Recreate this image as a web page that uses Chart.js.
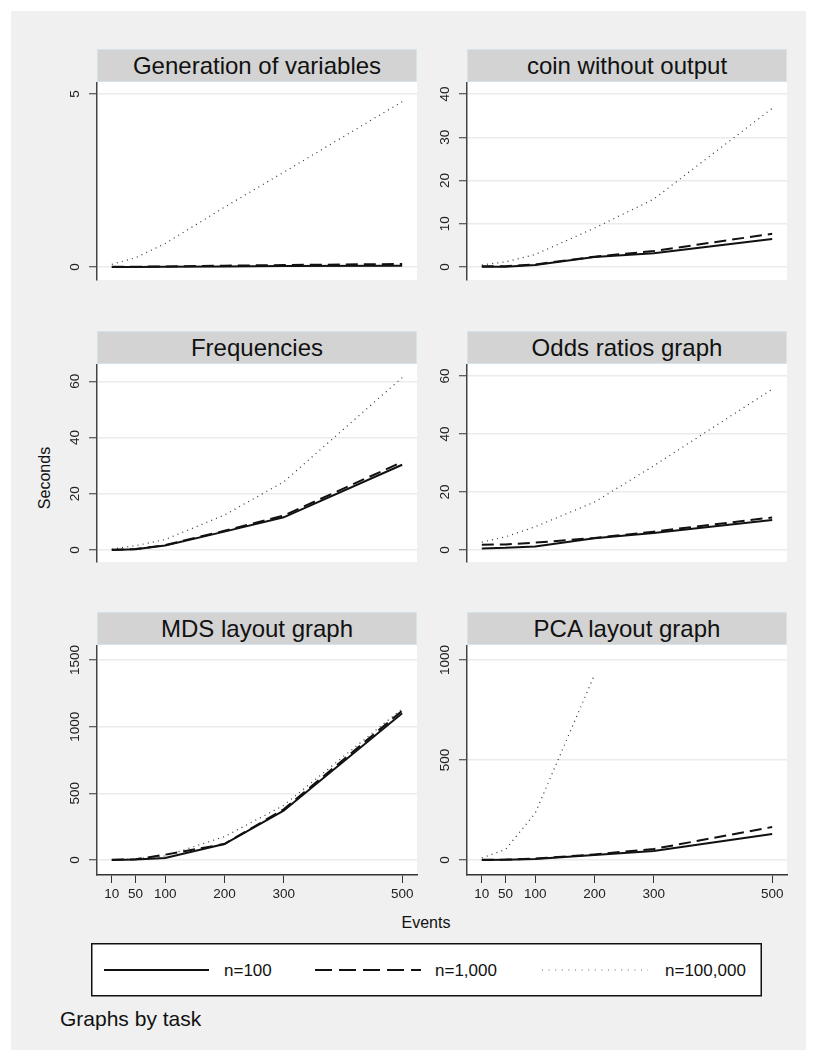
<!DOCTYPE html>
<html>
<head>
<meta charset="utf-8">
<script src="https://cdn.jsdelivr.net/npm/chart.js@4.4.1/dist/chart.umd.min.js"></script>
<style>
  body { margin: 0; background: #fff; font-family: "Liberation Sans", Arial, Helvetica, sans-serif; }
  #page { position: relative; width: 813px; height: 1059px; }
  #bg { position: absolute; left: 11px; top: 11px; width: 795px; height: 1039px; background: #eff0ef; }
  .head { position: absolute; height: 33px; background: #d3d3d3; border: 1px solid #d7e3ea; box-sizing: border-box;
          text-align: center; font-size: 24px; line-height: 31px; color: #111; }
  canvas { position: absolute; }
  .txt { position: absolute; color: #111; white-space: nowrap; }
</style>
</head>
<body>
<div id="page">
  <div id="bg"></div>
  <div class="txt" style="left:45px;top:478px;font-size:16px;transform:translate(-50%,-50%) rotate(-90deg);">Seconds</div>
  <div class="txt" style="left:426px;top:923px;font-size:16px;transform:translate(-50%,-50%);">Events</div>
  <svg style="position:absolute;left:91px;top:943px" width="671" height="54">
    <rect x="0.75" y="0.75" width="669.5" height="52" fill="#fff" stroke="#111" stroke-width="1.5"/>
    <line x1="13" y1="27" x2="118" y2="27" stroke="#111" stroke-width="2"/>
    <text x="133" y="33" font-size="17" fill="#111" font-family="Liberation Sans, Arial">n=100</text>
    <line x1="224" y1="27" x2="330" y2="27" stroke="#111" stroke-width="2" stroke-dasharray="17 7"/>
    <text x="344" y="33" font-size="17" fill="#111" font-family="Liberation Sans, Arial">n=1,000</text>
    <line x1="451" y1="27" x2="557" y2="27" stroke="#666" stroke-width="1" stroke-dasharray="1 5.6"/>
    <text x="574" y="33" font-size="17" fill="#111" font-family="Liberation Sans, Arial">n=100,000</text>
  </svg>
  <div class="txt" style="left:60px;top:1019px;font-size:21px;transform:translateY(-50%);">Graphs by task</div>
</div>
<script>
// x values (number of events)
const events = [10, 50, 100, 200, 300, 500];
const tasks = ["Generation of variables", "coin without output", "Frequencies",
               "Odds ratios graph", "MDS layout graph", "PCA layout graph"];
const seriesNames = ["n=100", "n=1,000", "n=100,000"];

// seconds, one row per task
const n100 = [
  [0, 0, 0.01, 0.02, 0.03, 0.04],
  [0.1, 0.1, 0.5, 2.3, 3.2, 6.5],
  [0, 0.2, 1.6, 6.5, 11.6, 30.3],
  [0.5, 0.7, 1.2, 4, 5.8, 10.3],
  [0, 3, 15, 120, 370, 1100],
  [0, 1, 5, 25, 45, 130]
];
const n1000 = [
  [0.01, 0.01, 0.02, 0.04, 0.06, 0.09],
  [0.2, 0.2, 0.6, 2.4, 3.7, 7.7],
  [0.05, 0.3, 1.7, 6.8, 12.2, 31.3],
  [1.8, 1.9, 2.5, 4.1, 6.3, 11.2],
  [2, 5, 40, 120, 380, 1120],
  [1, 2, 7, 28, 55, 165]
];
const n100000 = [
  [0.08, 0.27, 0.68, 1.73, 2.74, 4.78],
  [0.5, 1.2, 2.9, 9, 15.7, 36.7],
  [0.3, 1.5, 3.7, 12.4, 24.2, 61.3],
  [2.7, 4.5, 8, 16.5, 29, 55.5],
  [2, 8, 30, 175, 410, 1135],
  [10, 53, 233, 925, null, null]
];

// axis ticks and ranges
const xTicks = [10, 50, 100, 200, 300, 500];
const yTicks = [[0, 5], [0, 10, 20, 30, 40], [0, 20, 40, 60], [0, 20, 40, 60], [0, 500, 1000, 1500], [0, 500, 1000]];
const yMin = [-0.373, -2.99, -4.3, -4.18, -112.5, -75];
const yMax = [5.348, 42.79, 66.15, 64.18, 1612.5, 1075];

const FONT = '"Liberation Sans", Arial, Helvetica, sans-serif';
const colLeft = [97, 467];
const rowTop = [82, 364, 645];
const plotW = 320, plotH = 230, axisW = 45;

const plotBg = {
  id: "plotBg",
  beforeDraw(chart) {
    const a = chart.chartArea, c = chart.ctx;
    c.save();
    c.fillStyle = "#fff";
    c.fillRect(a.left, a.top, a.right - a.left, a.bottom - a.top);
    c.restore();
  }
};

// rotated y tick labels like Stata
const yLabels = {
  id: "yLabels",
  afterDraw(chart) {
    const s = chart.scales.y, c = chart.ctx;
    c.save();
    c.font = "13.5px " + FONT;
    c.fillStyle = "#222";
    c.textAlign = "center";
    c.textBaseline = "middle";
    s.ticks.forEach(t => {
      const y = s.getPixelForValue(t.value);
      c.save();
      c.translate(chart.chartArea.left - 22, y);
      c.rotate(-Math.PI / 2);
      c.fillText(String(t.value), 0, 0);
      c.restore();
    });
    c.restore();
  }
};

const page = document.getElementById("page");

tasks.forEach((task, i) => {
  const col = i % 2, row = Math.floor(i / 2);
  const left = colLeft[col], top = rowTop[row];
  const bottomRow = row === 2;

  const head = document.createElement("div");
  head.className = "head";
  head.style.left = left + "px";
  head.style.top = (top - 33) + "px";
  head.style.width = plotW + "px";
  head.textContent = task;
  page.appendChild(head);

  const cv = document.createElement("canvas");
  const w = axisW + plotW + 7, h = plotH + (bottomRow ? 32 : 0);
  cv.width = w; cv.height = h;
  cv.style.left = (left - axisW) + "px";
  cv.style.top = top + "px";
  cv.style.width = w + "px"; cv.style.height = h + "px";
  page.appendChild(cv);

  const mk = (vals, dash, width, color) => ({
    data: events.map((e, k) => ({ x: e, y: vals[k] })),
    borderColor: color, borderWidth: width, borderDash: dash,
    pointRadius: 0, tension: 0, fill: false, spanGaps: false
  });

  new Chart(cv, {
    type: "line",
    data: {
      datasets: [
        Object.assign(mk(n100[i], [], 2, "#111"), { label: seriesNames[0] }),
        Object.assign(mk(n1000[i], [12, 6], 2, "#111"), { label: seriesNames[1] }),
        Object.assign(mk(n100000[i], [1, 4.2], 1.2, "#333"), { label: seriesNames[2] })
      ]
    },
    options: {
      responsive: false, animation: false, devicePixelRatio: 1,
      layout: { padding: { left: 0, right: 7, top: 0, bottom: 0 } },
      plugins: { legend: { display: false }, tooltip: { enabled: false } },
      scales: {
        x: {
          type: "linear", min: -15, max: 525, display: bottomRow,
          afterBuildTicks: s => { s.ticks = xTicks.map(v => ({ value: v })); },
          afterFit: s => { s.height = 32; },
          grid: { drawOnChartArea: false, drawTicks: true, tickLength: 8, tickColor: "#333", tickWidth: 1 },
          border: { color: "#333", width: 1.5 },
          ticks: { font: { family: FONT, size: 13.5 }, color: "#222", padding: 3, maxRotation: 0 }
        },
        y: {
          type: "linear", min: yMin[i], max: yMax[i],
          afterBuildTicks: s => { s.ticks = yTicks[i].map(v => ({ value: v })); },
          afterFit: s => { s.width = axisW; },
          grid: { color: "#ebebeb", lineWidth: 1.5, tickLength: 8, tickColor: "#333", tickWidth: 1 },
          border: { color: "#444", width: 1.5 },
          ticks: { display: false }
        }
      }
    },
    plugins: [plotBg, yLabels]
  });
});
</script>
</body>
</html>
